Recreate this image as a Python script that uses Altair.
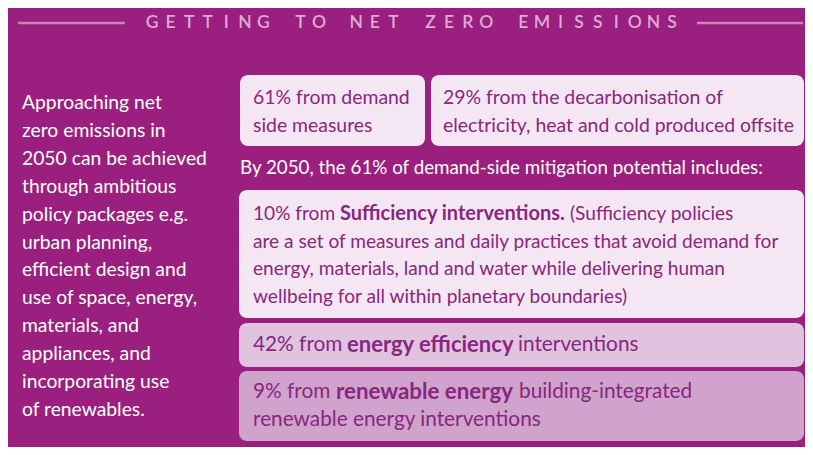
import altair as alt
import pandas as pd

# ---------------- content ----------------
title = "GETTING TO NET ZERO EMISSIONS"

intro_lines = [
    "Approaching net", "zero emissions in", "2050 can be achieved",
    "through ambitious", "policy packages e.g.", "urban planning,",
    "efficient design and", "use of space, energy,", "materials, and",
    "appliances, and", "incorporating use", "of renewables.",
]

box_a_lines = ["61% from demand", "side measures"]
box_b_lines = ["29% from the decarbonisation of",
               "electricity, heat and cold produced offsite"]
subhead = "By 2050, the 61% of demand-side mitigation potential includes:"

# (text, bold) segments per line
box_c_lines = [
    [("10% from ", False), ("Sufficiency interventions.", True), ("(Sufficiency policies", False)],
    [("are a set of measures and daily practices that avoid demand for", False)],
    [("energy, materials, land and water while delivering human", False)],
    [("wellbeing for all within planetary boundaries)", False)],
]
box_d_lines = [
    [("42% from ", False), ("energy efficiency", True), ("interventions", False)],
]
box_e_lines = [
    [("9% from ", False), ("renewable energy", True), ("building-integrated", False)],
    [("renewable energy interventions", False)],
]

# ---------------- layout (reference pixel space) ----------------
PURPLE = "#9a1f7f"
TXT = "#8a267f"
LIGHT = "#f4e7f3"
MID = "#e0c4df"
DEEP = "#cfa3cb"
RULE = "#c985bb"
TITLE_C = "#dcaad2"
FONT = "Lato"

boxes = pd.DataFrame({
    "x": [240, 431, 239, 239, 239],
    "x2": [425, 804, 804, 804, 804],
    "y": [75, 75, 190, 323, 371],
    "y2": [146, 146, 318, 367, 441],
    "fill": [LIGHT, LIGHT, LIGHT, MID, DEEP],
})

rules = pd.DataFrame({"x": [18, 697], "x2": [125, 803], "y": [23, 23]})

title_df = pd.DataFrame({"ch": list(title)})
title_df["x"] = 152 + title_df.index * 18.57
title_df["y"] = 23
title_df = title_df[title_df["ch"] != " "]

rows = []
for i, t in enumerate(intro_lines):
    rows.append(dict(text=t, x=22, y=103 + i * 27.9, bold=False, color="white", fs=19.3))
for i, t in enumerate(box_a_lines):
    rows.append(dict(text=t, x=253, y=98 + i * 28, bold=False, color=TXT, fs=19.4))
for i, t in enumerate(box_b_lines):
    rows.append(dict(text=t, x=443, y=98 + i * 28, bold=False, color=TXT, fs=19.4))
rows.append(dict(text=subhead, x=240, y=168, bold=False, color="white", fs=18.8))

seg_x = {
    ("c", 0): [253, 340, 570],
    ("d", 0): [253, 347, 518],
    ("e", 0): [253, 336, 519],
}
sizes = {"c": (19.1, 20.0), "d": (20.8, 22.0), "e": (20.8, 22.3)}
for key, lines, y0 in (("c", box_c_lines, 214), ("d", box_d_lines, 345), ("e", box_e_lines, 392)):
    for li, segs in enumerate(lines):
        xs = seg_x.get((key, li), [253])
        for si, (t, b) in enumerate(segs):
            rows.append(dict(text=t, x=xs[si], y=y0 + li * 27.7, bold=b, color=TXT,
                             fs=sizes[key][1] if b else sizes[key][0]))
texts = pd.DataFrame(rows)

W, H = 797, 439
xs = alt.Scale(domain=[8, 8 + W], range=[0, W])
ys = alt.Scale(domain=[8, 8 + H], range=[0, H])


def X(f="x"):
    return alt.X(f"{f}:Q", scale=xs, axis=None)


def Y(f="y"):
    return alt.Y(f"{f}:Q", scale=ys, axis=None)


box_layer = alt.Chart(boxes).mark_rect(cornerRadius=8).encode(
    x=X(), x2="x2", y=Y(), y2="y2", fill=alt.Fill("fill:N", scale=None)
)
rule_layer = alt.Chart(rules).mark_rule(color=RULE, strokeWidth=2.5).encode(
    x=X(), x2="x2", y=Y()
)
title_layer = alt.Chart(title_df).mark_text(
    font=FONT, fontSize=17.5, fontWeight=600, color=TITLE_C, align="center", baseline="middle"
).encode(x=X(), y=Y(), text="ch:N")

reg_layer = alt.Chart(texts[~texts["bold"]]).mark_text(
    font=FONT, align="left", baseline="middle"
).encode(x=X(), y=Y(), text="text:N", color=alt.Color("color:N", scale=None),
         size=alt.Size("fs:Q", scale=None))
bold_layer = alt.Chart(texts[texts["bold"]]).mark_text(
    font=FONT, fontWeight="bold", align="left", baseline="middle"
).encode(x=X(), y=Y(), text="text:N", color=alt.Color("color:N", scale=None),
         size=alt.Size("fs:Q", scale=None))

chart = alt.layer(box_layer, rule_layer, title_layer, reg_layer, bold_layer).properties(
    width=W, height=H, padding=0, background=PURPLE
).configure_view(stroke=None)

chart.save("out.html", embed_options={"renderer": "svg", "actions": False})
